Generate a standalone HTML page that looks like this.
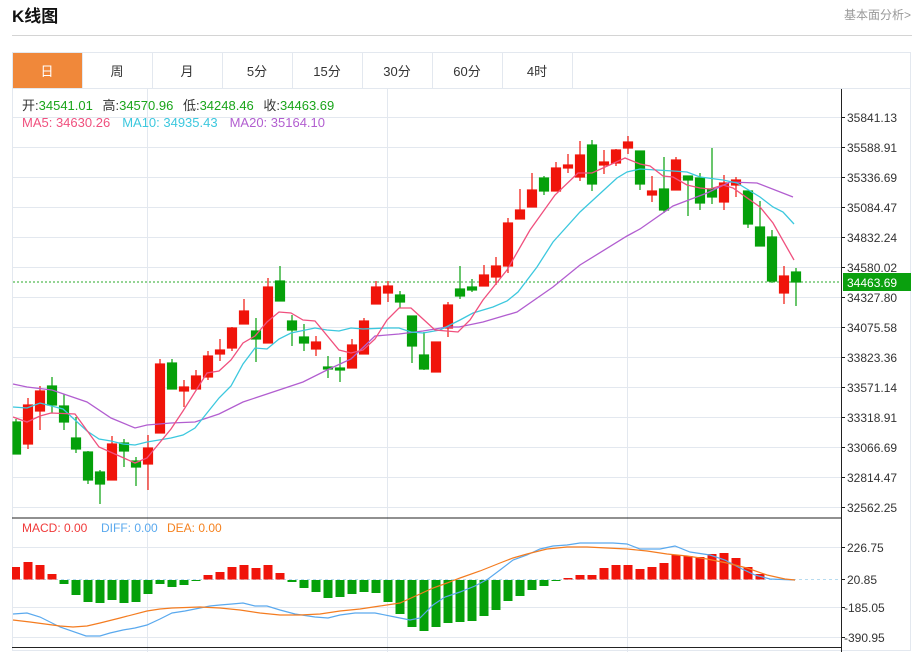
<!DOCTYPE html>
<html><head><meta charset="utf-8"><style>
body{margin:0;background:#fff;width:921px;height:652px;overflow:hidden;font-family:"Liberation Sans","Noto Sans CJK SC",sans-serif}
</style></head><body>
<svg width="921" height="652" xmlns="http://www.w3.org/2000/svg" style="position:absolute;left:0;top:0;font-family:'Liberation Sans','Noto Sans CJK SC',sans-serif">
<text x="12" y="22" font-size="17" font-weight="bold" fill="#111">K线图</text>
<text x="911" y="19" font-size="12" fill="#999" text-anchor="end">基本面分析&gt;</text>
<line x1="12" y1="35.5" x2="912" y2="35.5" stroke="#d4d4d4"/>
<rect x="12.5" y="52.5" width="898" height="598" fill="none" stroke="#e3e8ef"/>
<rect x="13" y="53" width="69" height="35" fill="#f0883a"/>
<g stroke="#e3e8ef"><line x1="82.5" y1="53" x2="82.5" y2="88"/><line x1="152.5" y1="53" x2="152.5" y2="88"/><line x1="222.5" y1="53" x2="222.5" y2="88"/><line x1="292.5" y1="53" x2="292.5" y2="88"/><line x1="362.5" y1="53" x2="362.5" y2="88"/><line x1="432.5" y1="53" x2="432.5" y2="88"/><line x1="502.5" y1="53" x2="502.5" y2="88"/><line x1="572.5" y1="53" x2="572.5" y2="88"/><line x1="12" y1="88.5" x2="911" y2="88.5"/></g>
<g font-size="13" fill="#333" text-anchor="middle"><text x="47" y="76" fill="#fff">日</text><text x="117" y="76">周</text><text x="187" y="76">月</text><text x="257" y="76">5分</text><text x="327" y="76">15分</text><text x="397" y="76">30分</text><text x="467" y="76">60分</text><text x="537" y="76">4时</text></g>
<!-- grid -->
<g stroke="#e3e8ef"><line x1="13" y1="117.5" x2="841" y2="117.5"/><line x1="13" y1="147.5" x2="841" y2="147.5"/><line x1="13" y1="177.5" x2="841" y2="177.5"/><line x1="13" y1="207.5" x2="841" y2="207.5"/><line x1="13" y1="237.5" x2="841" y2="237.5"/><line x1="13" y1="267.5" x2="841" y2="267.5"/><line x1="13" y1="297.5" x2="841" y2="297.5"/><line x1="13" y1="327.5" x2="841" y2="327.5"/><line x1="13" y1="357.5" x2="841" y2="357.5"/><line x1="13" y1="387.5" x2="841" y2="387.5"/><line x1="13" y1="417.5" x2="841" y2="417.5"/><line x1="13" y1="447.5" x2="841" y2="447.5"/><line x1="13" y1="477.5" x2="841" y2="477.5"/><line x1="13" y1="507.5" x2="841" y2="507.5"/>
<line x1="147.5" y1="89" x2="147.5" y2="652"/><line x1="387.5" y1="89" x2="387.5" y2="652"/><line x1="627.5" y1="89" x2="627.5" y2="652"/>
<line x1="13" y1="547.5" x2="841" y2="547.5"/><line x1="13" y1="607.5" x2="841" y2="607.5"/><line x1="13" y1="637.5" x2="841" y2="637.5"/></g>
<line x1="12" y1="518" x2="841" y2="518" stroke="#222"/>
<line x1="12" y1="647.5" x2="841" y2="647.5" stroke="#222"/>
<line x1="841.5" y1="89" x2="841.5" y2="652" stroke="#222"/>
<g stroke="#222"><line x1="841" y1="117.5" x2="845" y2="117.5"/><line x1="841" y1="147.5" x2="845" y2="147.5"/><line x1="841" y1="177.5" x2="845" y2="177.5"/><line x1="841" y1="207.5" x2="845" y2="207.5"/><line x1="841" y1="237.5" x2="845" y2="237.5"/><line x1="841" y1="267.5" x2="845" y2="267.5"/><line x1="841" y1="297.5" x2="845" y2="297.5"/><line x1="841" y1="327.5" x2="845" y2="327.5"/><line x1="841" y1="357.5" x2="845" y2="357.5"/><line x1="841" y1="387.5" x2="845" y2="387.5"/><line x1="841" y1="417.5" x2="845" y2="417.5"/><line x1="841" y1="447.5" x2="845" y2="447.5"/><line x1="841" y1="477.5" x2="845" y2="477.5"/><line x1="841" y1="507.5" x2="845" y2="507.5"/><line x1="841" y1="547.5" x2="845" y2="547.5"/><line x1="841" y1="579.5" x2="845" y2="579.5"/><line x1="841" y1="607.5" x2="845" y2="607.5"/><line x1="841" y1="637.5" x2="845" y2="637.5"/></g>
<g font-size="12" fill="#333"><text x="847" y="122">35841.13</text><text x="847" y="152">35588.91</text><text x="847" y="182">35336.69</text><text x="847" y="212">35084.47</text><text x="847" y="242">34832.24</text><text x="847" y="272">34580.02</text><text x="847" y="302">34327.80</text><text x="847" y="332">34075.58</text><text x="847" y="362">33823.36</text><text x="847" y="392">33571.14</text><text x="847" y="422">33318.91</text><text x="847" y="452">33066.69</text><text x="847" y="482">32814.47</text><text x="847" y="512">32562.25</text>
<text x="847" y="552">226.75</text><text x="847" y="584">20.85</text><text x="844" y="612">-185.05</text><text x="844" y="642">-390.95</text></g>
<line x1="13" y1="282" x2="841" y2="282" stroke="#2aa82a" stroke-dasharray="2,2"/>
<rect x="843" y="273" width="68" height="18" fill="#0aa00e"/>
<text x="847" y="287" font-size="12" fill="#fff">34463.69</text>
<!-- info -->
<text x="22" y="110" font-size="13" fill="#1aa51a"><tspan fill="#333">开:</tspan>34541.01 <tspan fill="#333" dx="6">高:</tspan>34570.96 <tspan fill="#333" dx="6">低:</tspan>34248.46 <tspan fill="#333" dx="6">收:</tspan>34463.69</text>
<text x="22" y="127" font-size="13"><tspan fill="#f0507e">MA5: 34630.26</tspan><tspan fill="#3cc8de" dx="12">MA10: 34935.43</tspan><tspan fill="#b25ed0" dx="12">MA20: 35164.10</tspan></text>
<!-- candles red -->
<g stroke="#f0140a" fill="#f0140a" stroke-width="1.2">
<line x1="28" y1="398" x2="28" y2="449"/><rect x="23.5" y="405" width="9" height="39"/>
<line x1="40" y1="386" x2="40" y2="430"/><rect x="35.5" y="391" width="9" height="20"/>
<line x1="112" y1="436" x2="112" y2="480"/><rect x="107.5" y="444" width="9" height="36"/>
<line x1="148" y1="435" x2="148" y2="490"/><rect x="143.5" y="448" width="9" height="16"/>
<line x1="160" y1="359" x2="160" y2="433"/><rect x="155.5" y="364" width="9" height="69"/>
<line x1="184" y1="380" x2="184" y2="407"/><rect x="179.5" y="387" width="9" height="4"/>
<line x1="196" y1="370" x2="196" y2="389"/><rect x="191.5" y="376" width="9" height="13"/>
<line x1="208" y1="351" x2="208" y2="380"/><rect x="203.5" y="356" width="9" height="21"/>
<line x1="220" y1="339" x2="220" y2="361"/><rect x="215.5" y="350" width="9" height="4"/>
<line x1="232" y1="327" x2="232" y2="351"/><rect x="227.5" y="328" width="9" height="20"/>
<line x1="244" y1="299" x2="244" y2="324"/><rect x="239.5" y="311" width="9" height="13"/>
<line x1="268" y1="278" x2="268" y2="343"/><rect x="263.5" y="287" width="9" height="56"/>
<line x1="316" y1="336" x2="316" y2="356"/><rect x="311.5" y="342" width="9" height="7"/>
<line x1="352" y1="339" x2="352" y2="368"/><rect x="347.5" y="345" width="9" height="23"/>
<line x1="364" y1="318" x2="364" y2="354"/><rect x="359.5" y="321" width="9" height="33"/>
<line x1="376" y1="281" x2="376" y2="304"/><rect x="371.5" y="287" width="9" height="17"/>
<line x1="388" y1="281" x2="388" y2="302"/><rect x="383.5" y="286" width="9" height="7"/>
<line x1="436" y1="342" x2="436" y2="372"/><rect x="431.5" y="342" width="9" height="30"/>
<line x1="448" y1="302" x2="448" y2="337"/><rect x="443.5" y="305" width="9" height="23"/>
<line x1="484" y1="265" x2="484" y2="286"/><rect x="479.5" y="275" width="9" height="11"/>
<line x1="496" y1="257" x2="496" y2="285"/><rect x="491.5" y="266" width="9" height="11"/>
<line x1="508" y1="218" x2="508" y2="273"/><rect x="503.5" y="223" width="9" height="43"/>
<line x1="520" y1="189" x2="520" y2="219"/><rect x="515.5" y="210" width="9" height="9"/>
<line x1="532" y1="173" x2="532" y2="207"/><rect x="527.5" y="190" width="9" height="17"/>
<line x1="556" y1="162" x2="556" y2="191"/><rect x="551.5" y="168" width="9" height="23"/>
<line x1="568" y1="154" x2="568" y2="173"/><rect x="563.5" y="165" width="9" height="3"/>
<line x1="580" y1="141" x2="580" y2="181"/><rect x="575.5" y="155" width="9" height="22"/>
<line x1="604" y1="150" x2="604" y2="174"/><rect x="599.5" y="162" width="9" height="3"/>
<line x1="616" y1="149" x2="616" y2="166"/><rect x="611.5" y="150" width="9" height="13"/>
<line x1="628" y1="136" x2="628" y2="154"/><rect x="623.5" y="142" width="9" height="6"/>
<line x1="652" y1="176" x2="652" y2="202"/><rect x="647.5" y="191" width="9" height="4"/>
<line x1="676" y1="157" x2="676" y2="190"/><rect x="671.5" y="160" width="9" height="30"/>
<line x1="724" y1="175" x2="724" y2="210"/><rect x="719.5" y="183" width="9" height="19"/>
<line x1="736" y1="177" x2="736" y2="197"/><rect x="731.5" y="180" width="9" height="5"/>
<line x1="784" y1="266" x2="784" y2="304"/><rect x="779.5" y="276" width="9" height="17"/>
</g>
<!-- candles green -->
<g stroke="#05a00a" fill="#05a00a" stroke-width="1.2">
<line x1="16" y1="419" x2="16" y2="454"/><rect x="13" y="422" width="7.5" height="32"/>
<line x1="52" y1="377" x2="52" y2="413"/><rect x="47.5" y="386" width="9" height="19"/>
<line x1="64" y1="394" x2="64" y2="430"/><rect x="59.5" y="406" width="9" height="16"/>
<line x1="76" y1="417" x2="76" y2="453"/><rect x="71.5" y="438" width="9" height="11"/>
<line x1="88" y1="451" x2="88" y2="484"/><rect x="83.5" y="452" width="9" height="28"/>
<line x1="100" y1="470" x2="100" y2="504"/><rect x="95.5" y="472" width="9" height="12"/>
<line x1="124" y1="439" x2="124" y2="467"/><rect x="119.5" y="443" width="9" height="8"/>
<line x1="136" y1="457" x2="136" y2="486"/><rect x="131.5" y="461" width="9" height="6"/>
<line x1="172" y1="359" x2="172" y2="389"/><rect x="167.5" y="363" width="9" height="26"/>
<line x1="256" y1="318" x2="256" y2="362"/><rect x="251.5" y="331" width="9" height="8"/>
<line x1="280" y1="266" x2="280" y2="301"/><rect x="275.5" y="281" width="9" height="20"/>
<line x1="292" y1="315" x2="292" y2="346"/><rect x="287.5" y="321" width="9" height="9"/>
<line x1="304" y1="324" x2="304" y2="351"/><rect x="299.5" y="337" width="9" height="6"/>
<line x1="328" y1="356" x2="328" y2="378"/><rect x="323.5" y="367" width="9" height="2"/>
<line x1="340" y1="357" x2="340" y2="382"/><rect x="335.5" y="368" width="9" height="2"/>
<line x1="400" y1="291" x2="400" y2="308"/><rect x="395.5" y="295" width="9" height="7"/>
<line x1="412" y1="316" x2="412" y2="363"/><rect x="407.5" y="316" width="9" height="30"/>
<line x1="424" y1="332" x2="424" y2="370"/><rect x="419.5" y="355" width="9" height="14"/>
<line x1="460" y1="266" x2="460" y2="299"/><rect x="455.5" y="289" width="9" height="7"/>
<line x1="472" y1="279" x2="472" y2="292"/><rect x="467.5" y="287" width="9" height="3"/>
<line x1="544" y1="176" x2="544" y2="195"/><rect x="539.5" y="178" width="9" height="13"/>
<line x1="592" y1="140" x2="592" y2="191"/><rect x="587.5" y="145" width="9" height="39"/>
<line x1="640" y1="151" x2="640" y2="190"/><rect x="635.5" y="151" width="9" height="33"/>
<line x1="664" y1="157" x2="664" y2="213"/><rect x="659.5" y="189" width="9" height="21"/>
<line x1="688" y1="176" x2="688" y2="216"/><rect x="683.5" y="176" width="9" height="4"/>
<line x1="700" y1="173" x2="700" y2="210"/><rect x="695.5" y="178" width="9" height="25"/>
<line x1="712" y1="148" x2="712" y2="204"/><rect x="707.5" y="189" width="9" height="8"/>
<line x1="748" y1="191" x2="748" y2="228"/><rect x="743.5" y="191" width="9" height="33"/>
<line x1="760" y1="201" x2="760" y2="246"/><rect x="755.5" y="227" width="9" height="19"/>
<line x1="772" y1="230" x2="772" y2="283"/><rect x="767.5" y="237" width="9" height="44"/>
<line x1="796" y1="268" x2="796" y2="306"/><rect x="791.5" y="272" width="9" height="10"/>
</g>
<!-- MAs -->
<g fill="none" stroke-width="1.3">
<polyline stroke="#b25ed0" points="13,384 27,387 52,390 87,402 111,418 135,428 147,425 171,423 195,422 219,414 243,402 267,394 291,386 303,382 327,370 351,359 375,336 399,334 423,331 447,327 459,327 483,322 517,312 553,287 580,265 627,236 640,229 673,206 707,193 730,182 757,183 793,197"/>
<polyline stroke="#3cc8de" points="13,407 27,408 40,403 63,409 87,431 99,439 111,441 123,444 135,445 147,442 171,438 183,435 195,428 207,413 219,398 231,386 243,364 255,348 267,349 279,339 291,333 315,328 327,330 339,331 351,328 363,329 387,328 399,328 411,332 423,333 440,330 460,320 473,313 493,307 507,301 518,292 537,267 553,242 580,212 617,178 627,172 640,169 673,171 687,172 700,177 723,180 737,183 760,197 773,207 783,212 794,224"/>
<polyline stroke="#f0507e" points="13,417 27,422 40,416 51,413 75,414 99,447 135,463 147,458 171,429 183,411 207,373 219,371 231,360 243,343 255,336 267,322 279,312 291,313 303,320 315,321 339,350 351,353 363,350 375,339 387,320 399,308 411,308 423,319 435,330 458,332 470,320 483,300 507,270 530,230 555,195 578,173 592,173 625,158 640,164 650,166 663,176 673,177 687,185 700,188 710,189 723,185 733,188 760,207 773,223 794,260"/>
</g>
<!-- MACD -->
<g font-size="12"><text x="22" y="532" fill="#f03a3a">MACD: 0.00</text><text x="101" y="532" fill="#5aa9ee">DIFF: 0.00</text><text x="167" y="532" fill="#f58220">DEA: 0.00</text></g>
<line x1="13" y1="579.5" x2="841" y2="579.5" stroke="#b8dcf0" stroke-dasharray="3,3"/>
<g fill="#f0140a">
<rect x="12" y="567" width="8" height="12.5"/><rect x="23.5" y="562" width="9" height="17.5"/><rect x="35.5" y="565" width="9" height="14.5"/><rect x="47.5" y="574" width="9" height="5.5"/>
<rect x="203.5" y="575" width="9" height="4.5"/><rect x="215.5" y="572" width="9" height="7.5"/><rect x="227.5" y="567" width="9" height="12.5"/><rect x="239.5" y="565" width="9" height="14.5"/><rect x="251.5" y="568" width="9" height="11.5"/><rect x="263.5" y="565" width="9" height="14.5"/><rect x="275.5" y="573" width="9" height="6.5"/>
<rect x="563.5" y="578" width="9" height="1.5"/><rect x="575.5" y="575" width="9" height="4.5"/><rect x="587.5" y="575" width="9" height="4.5"/><rect x="599.5" y="568" width="9" height="11.5"/><rect x="611.5" y="565" width="9" height="14.5"/><rect x="623.5" y="565" width="9" height="14.5"/><rect x="635.5" y="569" width="9" height="10.5"/><rect x="647.5" y="567" width="9" height="12.5"/><rect x="659.5" y="563" width="9" height="16.5"/><rect x="671.5" y="555" width="9" height="24.5"/><rect x="683.5" y="556" width="9" height="23.5"/><rect x="695.5" y="557" width="9" height="22.5"/><rect x="707.5" y="554" width="9" height="25.5"/><rect x="719.5" y="553" width="9" height="26.5"/><rect x="731.5" y="558" width="9" height="21.5"/><rect x="743.5" y="567" width="9" height="12.5"/><rect x="755.5" y="574" width="9" height="5.5"/>
</g>
<g fill="#05a00a">
<rect x="59.5" y="580" width="9" height="4"/><rect x="71.5" y="580" width="9" height="15"/><rect x="83.5" y="580" width="9" height="22"/><rect x="95.5" y="580" width="9" height="23"/><rect x="107.5" y="580" width="9" height="20"/><rect x="119.5" y="580" width="9" height="23"/><rect x="131.5" y="580" width="9" height="22"/><rect x="143.5" y="580" width="9" height="14"/><rect x="155.5" y="580" width="9" height="4"/><rect x="167.5" y="580" width="9" height="7"/><rect x="179.5" y="580" width="9" height="5"/><rect x="191.5" y="580" width="9" height="1"/>
<rect x="287.5" y="580" width="9" height="2"/><rect x="299.5" y="580" width="9" height="8"/><rect x="311.5" y="580" width="9" height="12"/><rect x="323.5" y="580" width="9" height="18"/><rect x="335.5" y="580" width="9" height="17"/><rect x="347.5" y="580" width="9" height="14"/><rect x="359.5" y="580" width="9" height="12"/><rect x="371.5" y="580" width="9" height="13"/><rect x="383.5" y="580" width="9" height="22"/><rect x="395.5" y="580" width="9" height="34"/><rect x="407.5" y="580" width="9" height="47"/><rect x="419.5" y="580" width="9" height="51"/><rect x="431.5" y="580" width="9" height="47"/><rect x="443.5" y="580" width="9" height="43"/><rect x="455.5" y="580" width="9" height="42"/><rect x="467.5" y="580" width="9" height="41"/><rect x="479.5" y="580" width="9" height="36"/><rect x="491.5" y="580" width="9" height="30"/><rect x="503.5" y="580" width="9" height="21"/><rect x="515.5" y="580" width="9" height="16"/><rect x="527.5" y="580" width="9" height="10"/><rect x="539.5" y="580" width="9" height="6"/><rect x="551.5" y="580" width="9" height="1"/>
</g>
<g fill="none" stroke-width="1.2">
<polyline stroke="#5aa9ee" points="13,614 27,613 40,617 60,627 86,636 100,636 110,633 123,630 135,628 147,625 160,619 172,613 185,611 200,608 210,606 220,605 232,604 243,603 255,606 267,606 280,610 295,614 315,617 328,618 340,615 355,613 375,613 395,617 410,620 420,618 433,605 445,597 460,592 475,586 488,579 500,570 513,560 527,555 540,549 553,546 567,545 580,543 595,543 613,543 627,544 640,549 660,549 675,546 690,552 710,555 725,560 740,568 755,575 770,579 795,580"/>
<polyline stroke="#f47c20" points="13,620 30,622 45,624 60,626 73,627 87,626 100,623 120,618 147,611 160,609 172,608 200,607 220,608 240,610 260,613 280,615 300,615 320,614 340,611 360,609 380,606 400,603 420,594 433,588 447,583 460,578 480,571 500,563 513,558 527,554 547,549 567,547 587,547 607,548 627,549 647,551 667,554 687,556 707,559 727,563 747,568 767,575 785,579 795,580"/>
</g>
</svg>
</body></html>
